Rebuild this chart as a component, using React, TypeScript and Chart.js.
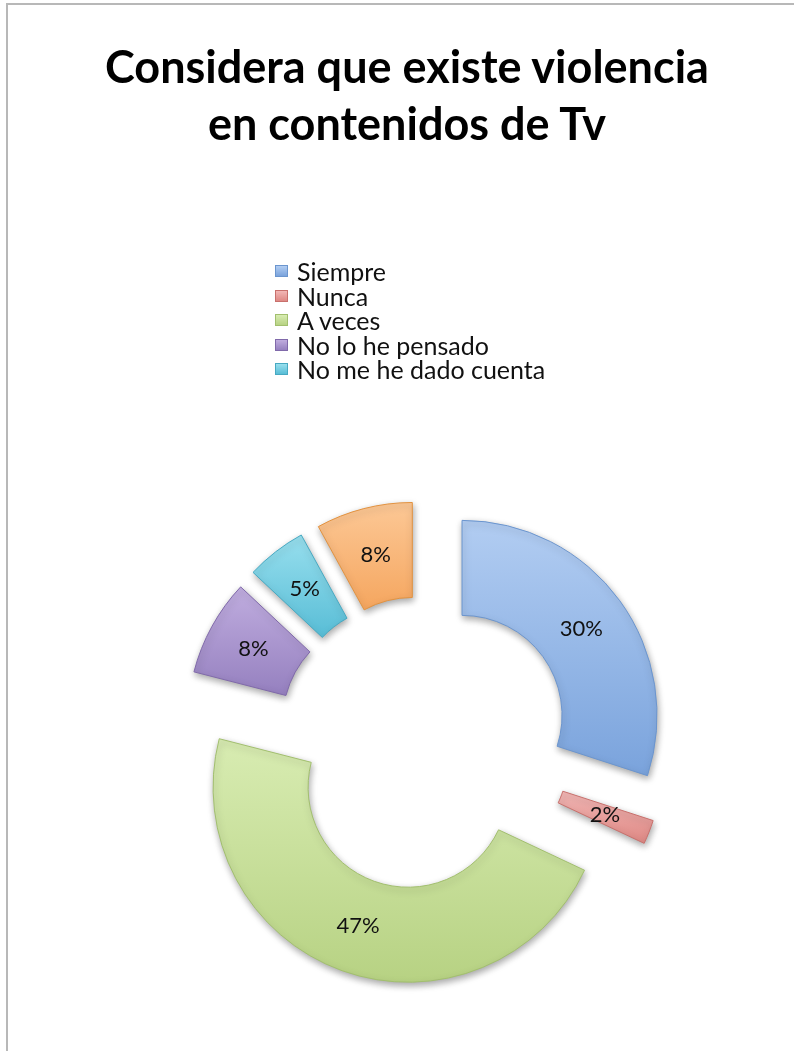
import React, { useEffect, useRef } from "react";
import { Chart, registerables } from "chart.js";

Chart.register(...registerables);

const TITLE_LINES = ["Considera que existe violencia", "en contenidos de Tv"];
const CATEGORIES = ["Siempre", "Nunca", "A veces", "No lo he pensado", "No me he dado cuenta", ""];
const VALUES = [30, 2, 47, 8, 5, 8];
const LEGEND_COUNT = 5;
const COLOR_LIGHT = ["#B2CDF2", "#F2B7B5", "#D8ECB2", "#C0ADDF", "#98DFEE", "#FCC896"];
const COLOR_DARK = ["#7AA3DC", "#DE8884", "#B7D283", "#9580BF", "#58BDD6", "#F5A65F"];
const COLOR_BORDER = ["#6B95CE", "#C8706C", "#A2BF6E", "#8069AA", "#47A9C2", "#E2923F"];

const OUTER_R = 195;
const INNER_R = 100;
const EXPLODE = 47;
const FONT = "Lato, 'Open Sans', sans-serif";

function sliceYRange(i: number, cy: number) {
  const total = VALUES.reduce((a, b) => a + b, 0);
  let before = 0;
  for (let k = 0; k < i; k++) before += VALUES[k];
  const a0 = -Math.PI / 2 + (before / total) * Math.PI * 2;
  const a1 = a0 + (VALUES[i] / total) * Math.PI * 2;
  let minY = Infinity;
  let maxY = -Infinity;
  for (let s = 0; s <= 24; s++) {
    const a = a0 + ((a1 - a0) * s) / 24;
    for (const r of [OUTER_R, INNER_R]) {
      const y = cy + Math.sin(a) * r;
      if (y < minY) minY = y;
      if (y > maxY) maxY = y;
    }
  }
  return [minY, maxY];
}

const explodePlugin = {
  id: "explodeSlices",
  beforeDatasetDraw(chart: any, args: any) {
    const ctx = chart.ctx;
    const els = args.meta.data;
    els.forEach((el: any) => {
      const half = (el.startAngle + el.endAngle) / 2;
      ctx.save();
      ctx.translate(Math.cos(half) * EXPLODE, Math.sin(half) * EXPLODE);
      ctx.shadowColor = "rgba(0,0,0,0.35)";
      ctx.shadowBlur = 7;
      ctx.shadowOffsetX = 1;
      ctx.shadowOffsetY = 3;
      el.draw(ctx, chart.chartArea);
      ctx.restore();
    });
    ctx.save();
    ctx.fillStyle = "#111";
    ctx.font = `22px ${FONT}`;
    ctx.textAlign = "center";
    ctx.textBaseline = "middle";
    els.forEach((el: any, i: number) => {
      const half = (el.startAngle + el.endAngle) / 2;
      const rm = (el.innerRadius + el.outerRadius) / 2 + EXPLODE;
      const x = el.x + Math.cos(half) * rm;
      const y = el.y + Math.sin(half) * rm;
      ctx.fillText(`${VALUES[i]}%`, x, y);
    });
    ctx.restore();
    return false;
  },
};

export default function App() {
  const canvasRef = useRef<HTMLCanvasElement | null>(null);

  useEffect(() => {
    const canvas = canvasRef.current;
    if (!canvas) return;
    const chart = new Chart(canvas, {
      type: "doughnut",
      data: {
        labels: CATEGORIES,
        datasets: [
          {
            data: VALUES,
            backgroundColor: (c: any) => {
              const ch = c.chart;
              const area = ch.chartArea;
              const i = c.dataIndex;
              if (!area || i === undefined) return COLOR_DARK[i ?? 0];
              const cy = (area.top + area.bottom) / 2;
              const [y0, y1] = sliceYRange(i, cy);
              const g = ch.ctx.createLinearGradient(0, y0, 0, y1);
              g.addColorStop(0, COLOR_LIGHT[i]);
              g.addColorStop(1, COLOR_DARK[i]);
              return g;
            },
            borderColor: COLOR_BORDER,
            borderWidth: 1,
            hoverOffset: 0,
          },
        ],
      },
      options: {
        responsive: false,
        animation: false,
        radius: OUTER_R,
        cutout: `${(INNER_R / OUTER_R) * 100}%`,
        layout: { padding: { left: 224, right: 170, top: 543, bottom: 108 } },
        plugins: {
          legend: { display: false },
          title: { display: false },
          tooltip: { enabled: false },
        },
        events: [],
      } as any,
      plugins: [explodePlugin],
    });
    return () => chart.destroy();
  }, []);

  return (
    <div style={{ position: "fixed", left: 0, top: 0, width: 794, height: 1051, overflow: "hidden", background: "#fff" }}>
      <div
        style={{
          position: "absolute",
          left: 6,
          top: 3,
          width: 820,
          height: 1080,
          border: "2px solid #b8b8b8",
          boxSizing: "border-box",
        }}
      />
      <canvas ref={canvasRef} width={794} height={1051} style={{ position: "absolute", left: 0, top: 0 }} />
      <div
        style={{
          position: "absolute",
          left: 7,
          width: 800,
          top: 38,
          textAlign: "center",
          fontFamily: FONT,
          fontWeight: 700,
          fontSize: 45,
          lineHeight: "57px",
          color: "#000",
        }}
      >
        {TITLE_LINES.map((t, i) => (
          <div key={i}>{t}</div>
        ))}
      </div>
      <div style={{ position: "absolute", left: 275, top: 259, fontFamily: FONT, fontSize: 25, color: "#111" }}>
        {CATEGORIES.slice(0, LEGEND_COUNT).map((c, i) => (
          <div key={i} style={{ display: "flex", alignItems: "center", height: 24.5 }}>
            <span
              style={{
                display: "inline-block",
                width: 13,
                height: 12,
                marginRight: 9,
                background: `linear-gradient(${COLOR_LIGHT[i]}, ${COLOR_DARK[i]})`,
                border: `1px solid ${COLOR_BORDER[i]}`,
                boxSizing: "border-box",
              }}
            />
            <span>{c}</span>
          </div>
        ))}
      </div>
    </div>
  );
}
